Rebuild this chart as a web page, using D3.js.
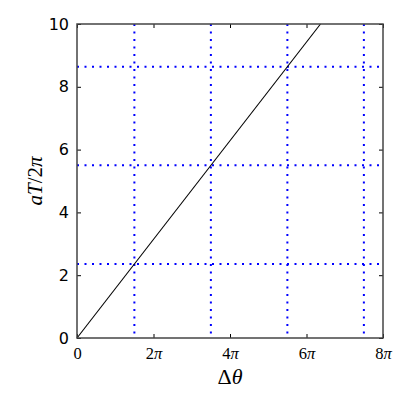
<!DOCTYPE html>
<html>
<head>
<meta charset="utf-8">
<script src="https://cdn.jsdelivr.net/npm/d3@7"></script>
<style>
  html, body { margin: 0; padding: 0; background: #fff; }
</style>
</head>
<body>
<div id="chart"></div>
<script>
"use strict";

// x values are in units of pi
const xTicks = [0, 2, 4, 6, 8];
const xTickNums = ["0", "2", "4", "6", "8"];
const yTicks = [0, 2, 4, 6, 8, 10];
// solid line aT/2pi = dtheta/2, endpoints in units of pi
const lineX = [0, 6.366];
const lineY = [0, 10];
// dotted guide lines
const vGuides = [1.5, 3.5, 5.5, 7.5];
const hGuides = [2.356, 5.498, 8.639];

const width = 409;
const height = 409;
const margin = { top: 24, right: 26, bottom: 71, left: 77 };
const innerW = width - margin.left - margin.right;
const innerH = height - margin.top - margin.bottom;
const mathFont = "'Liberation Serif', 'DejaVu Serif', serif";

const svg = d3
  .select("#chart")
  .append("svg")
  .attr("width", width)
  .attr("height", height);

const g = svg.append("g").attr("transform", `translate(${margin.left},${margin.top})`);

const x = d3.scaleLinear().domain([0, 8]).range([0, innerW]);
const y = d3.scaleLinear().domain([0, 10]).range([innerH, 0]);

// dotted guides
const guideStyle = (sel) =>
  sel
    .attr("stroke", "#0000ff")
    .attr("stroke-width", 2)
    .attr("stroke-dasharray", "2,5.5")
    .attr("fill", "none");

g.selectAll(".vguide")
  .data(vGuides)
  .join("line")
  .attr("class", "vguide")
  .attr("x1", (d) => x(d))
  .attr("x2", (d) => x(d))
  .attr("y1", 0)
  .attr("y2", innerH)
  .call(guideStyle);

g.selectAll(".hguide")
  .data(hGuides)
  .join("line")
  .attr("class", "hguide")
  .attr("x1", 0)
  .attr("x2", innerW)
  .attr("y1", (d) => y(d))
  .attr("y2", (d) => y(d))
  .call(guideStyle);

// main line
g.append("path")
  .datum(lineX.map((d, i) => [d, lineY[i]]))
  .attr("fill", "none")
  .attr("stroke", "#000")
  .attr("stroke-width", 1.1)
  .attr("d", d3.line().x((d) => x(d[0])).y((d) => y(d[1])));

// axes, ticks pointing inward
const tickLen = 4;
const xAxis = g
  .append("g")
  .attr("transform", `translate(0,${innerH})`)
  .call(d3.axisBottom(x).tickValues(xTicks).tickSize(-tickLen).tickPadding(9).tickFormat(""));
xAxis.selectAll(".tick text")
  .style("font-family", mathFont)
  .style("font-size", "16.5px")
  .attr("fill", "#000")
  .html((d, i) => (i === 0 ? "0" : `${xTickNums[i]}<tspan font-style="italic">π</tspan>`));

const xAxisTop = g
  .append("g")
  .call(d3.axisTop(x).tickValues(xTicks).tickSize(-tickLen).tickFormat(""));

const yAxis = g
  .append("g")
  .call(d3.axisLeft(y).tickValues(yTicks).tickSize(-tickLen).tickPadding(8));
yAxis.selectAll("text")
  .style("font-family", "'DejaVu Sans', sans-serif")
  .style("font-size", "16px")
  .attr("fill", "#000");

const yAxisRight = g
  .append("g")
  .attr("transform", `translate(${innerW},0)`)
  .call(d3.axisRight(y).tickValues(yTicks).tickSize(-tickLen).tickFormat(""));

[xAxis, xAxisTop, yAxis, yAxisRight].forEach((a) => {
  a.select(".domain").remove();
  a.selectAll(".tick line").attr("stroke", "#000").attr("stroke-width", 1);
});

// frame
g.append("rect")
  .attr("x", 0)
  .attr("y", 0)
  .attr("width", innerW)
  .attr("height", innerH)
  .attr("fill", "none")
  .attr("stroke", "#444")
  .attr("stroke-width", 1.5);

// axis labels
svg.append("text")
  .attr("x", margin.left + innerW / 2)
  .attr("y", 384)
  .attr("text-anchor", "middle")
  .style("font-family", mathFont)
  .style("font-size", "22px")
  .html("Δ<tspan font-style='italic'>θ</tspan>");

svg.append("text")
  .attr("transform", `translate(42,${margin.top + innerH / 2}) rotate(-90)`)
  .attr("text-anchor", "middle")
  .style("font-family", mathFont)
  .style("font-size", "21px")
  .html("<tspan font-style='italic'>aT</tspan>/2<tspan font-style='italic'>π</tspan>");
</script>
</body>
</html>
